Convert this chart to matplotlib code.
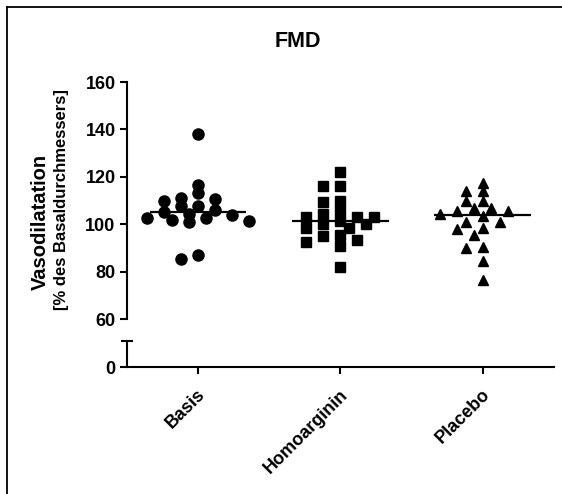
import numpy as np
import matplotlib
matplotlib.use('Agg')
import matplotlib.pyplot as plt
from matplotlib.lines import Line2D
from matplotlib.transforms import ScaledTranslation

plt.rcParams['font.family'] = ['Liberation Sans', 'DejaVu Sans']
plt.rcParams['font.weight'] = 'bold'

GROUPS = ['Basis', 'Homoarginin', 'Placebo']
basis = [138, 116.5, 113, 111, 110.5, 110, 107.5, 107.5, 106, 105, 104.5, 104,
         102.5, 102.5, 102, 101.5, 101, 87, 85.5]
homoarginin = [122, 116, 116, 110, 109.5, 105.5, 104.5, 103, 103, 103, 101.5,
               100, 100, 98.5, 98.5, 95.5, 95, 93.5, 92.5, 91, 82]
placebo = [117.5, 114, 114, 110, 110, 107, 107, 105.5, 105.5, 104.5, 103.5,
           101, 101, 98.5, 98, 95.5, 90.5, 90, 84.5, 76.5]
GROUP_VALUES = [basis, homoarginin, placebo]
MARKERS = ['o', 's', '^']
MARKER_SIZES = [8, 7.6, 7.6]
Y_TICKS_TOP = [60, 80, 100, 120, 140, 160]


def swarm_offsets(values, ax, step_px=8.5, rx=17.0, ry=7.5):
    # grid beeswarm in pixel space, elliptical collision test
    pts = ax.transData.transform([(0, v) for v in values])
    x0 = ax.transData.transform([(0, 0)])[0, 0]
    px_per_unit = ax.transData.transform([(1, 0)])[0, 0] - x0
    order = np.argsort(values, kind='stable')[::-1]
    cands = [0]
    for k in range(1, 12):
        cands += [-k, k]
    placed = []
    offsets = np.zeros(len(values))
    for i in order:
        y = pts[i, 1]
        for k in cands:
            x = k * step_px
            if all(((x - px) / rx) ** 2 + ((y - py) / ry) ** 2 >= 1 for px, py in placed):
                break
        placed.append((x, y))
        offsets[i] = x / px_per_unit
    return offsets


fig = plt.figure(figsize=(5.62, 4.94), dpi=100)
left, width = 0.2255, 0.760
ax = fig.add_axes([left, 0.354, width, 0.480])
ax_low = fig.add_axes([left, 0.257, width, 0.0526])

for a in (ax, ax_low):
    a.set_xlim(-0.5, 2.5)
    a.patch.set_visible(False)
    for s in ('top', 'right'):
        a.spines[s].set_visible(False)
    for s in ('left', 'bottom'):
        a.spines[s].set_linewidth(1.5)

ax.set_ylim(60, 160)
ax.spines['bottom'].set_visible(False)
ax.set_xticks([])
ax.set_yticks(Y_TICKS_TOP)
ax.tick_params(axis='y', direction='out', length=5, width=1.5, pad=3, labelsize=13)

ax_low.set_ylim(0, 11)
ax_low.set_yticks([0])
ax_low.set_yticks([11], minor=True)
ax_low.tick_params(axis='y', which='major', direction='out', length=5, width=1.5, pad=3, labelsize=13)
ax_low.tick_params(axis='y', which='minor', direction='inout', length=8, width=1.5)
ax_low.set_xticks(range(len(GROUPS)))
ax_low.set_xticklabels(GROUPS, rotation=45, ha='right', va='center', rotation_mode='anchor')
ax_low.tick_params(axis='x', direction='out', length=5, width=1.5, pad=13, labelsize=13)
shift = ScaledTranslation(5 / 100, 0, fig.dpi_scale_trans)
for lab in ax_low.get_xticklabels():
    lab.set_transform(lab.get_transform() + shift)

for i, (vals, m, ms) in enumerate(zip(GROUP_VALUES, MARKERS, MARKER_SIZES)):
    offs = swarm_offsets(vals, ax)
    ax.plot(i + offs, vals, linestyle='none', marker=m, ms=ms, color='black', mec='black')
    ax.hlines(np.median(vals), i - 0.34, i + 0.34, color='black', lw=1.6, zorder=3)

fig.text(0.53, 0.917, 'FMD', ha='center', va='center', fontsize=15.5, fontweight='bold')
fig.text(0.071, 0.551, 'Vasodilatation', rotation=90, ha='center', va='center', fontsize=14.5, fontweight='bold')
fig.text(0.110, 0.597, '[% des Basaldurchmessers]', rotation=90, ha='center', va='center', fontsize=12, fontweight='bold')

# frame around the graph (only left and top visible in the original)
fig.add_artist(Line2D([0.0116, 0.0116], [0, 0.986], transform=fig.transFigure, color='black', lw=1.3))
fig.add_artist(Line2D([0.0116, 1], [0.986, 0.986], transform=fig.transFigure, color='black', lw=1.3))

fig.savefig('out.png', dpi=100)
